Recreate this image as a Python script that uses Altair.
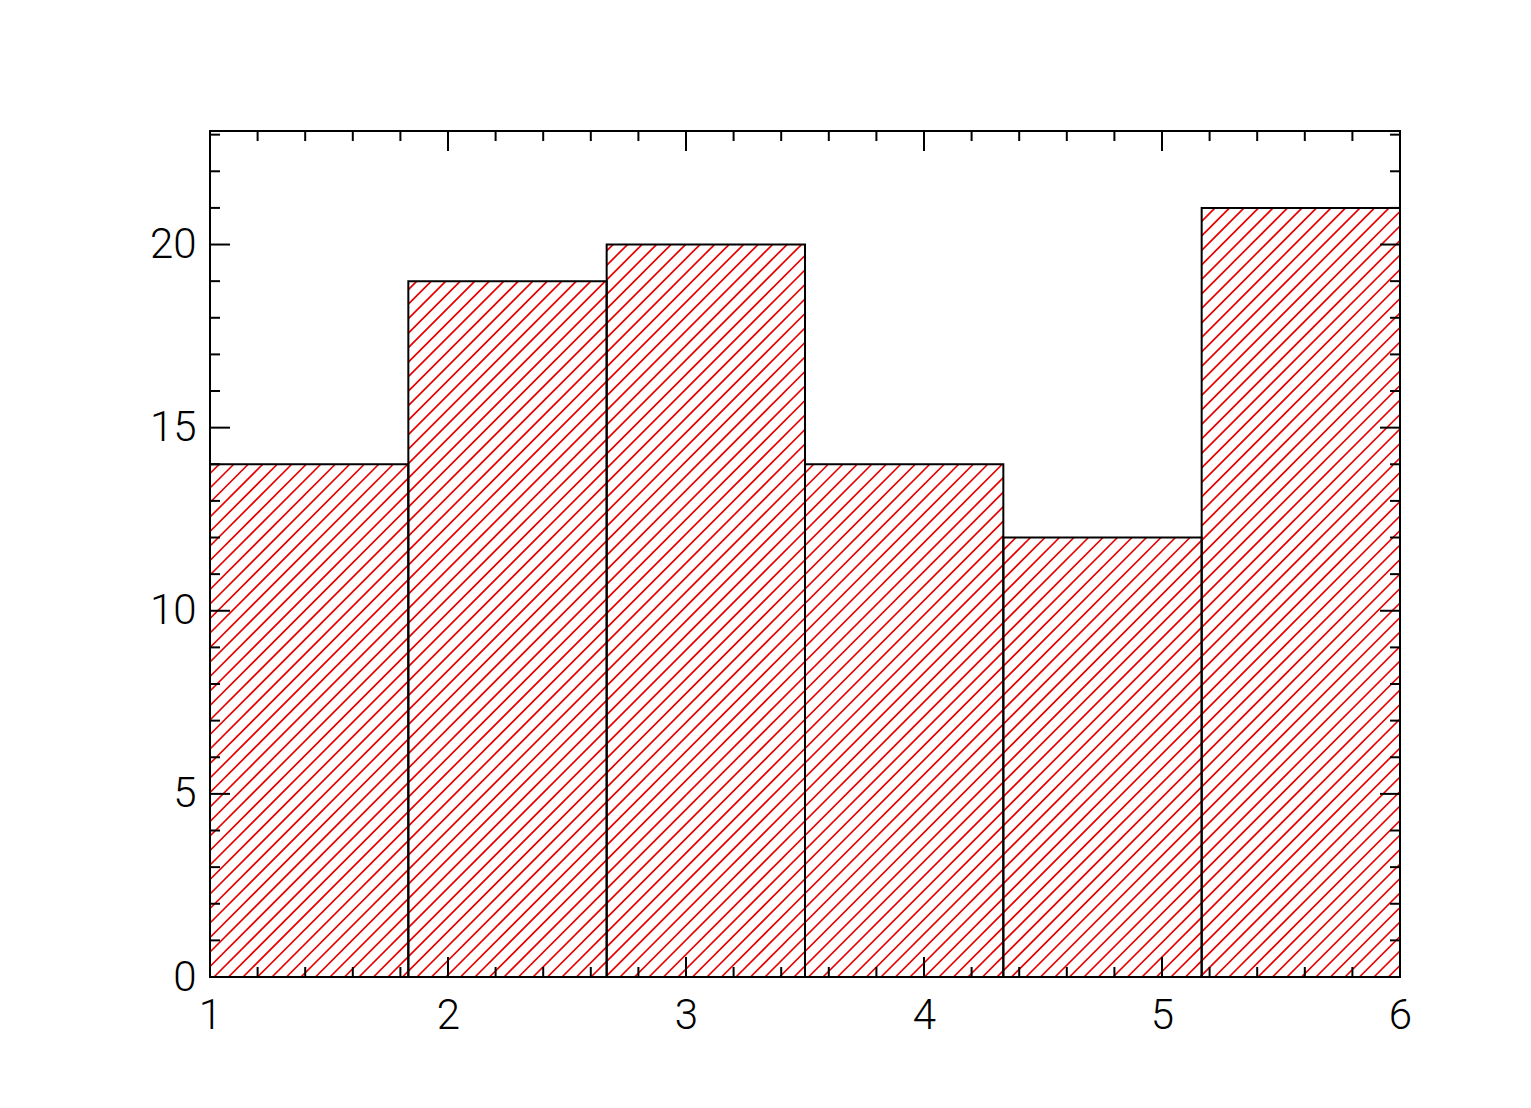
import altair as alt
import pandas as pd
import numpy as np

# ---- data ----
counts = [14, 19, 20, 14, 12, 21]
x_min, x_max = 1, 6
y_min, y_max = 0, 23.1
x_major = [1, 2, 3, 4, 5, 6]
x_minor = [1.2, 1.4, 1.6, 1.8, 2.2, 2.4, 2.6, 2.8, 3.2, 3.4, 3.6, 3.8,
           4.2, 4.4, 4.6, 4.8, 5.2, 5.4, 5.6, 5.8]
y_major = [0, 5, 10, 15, 20]
y_minor = [1, 2, 3, 4, 6, 7, 8, 9, 11, 12, 13, 14, 16, 17, 18, 19, 21, 22, 23]

# ---- layout ----
W, H = 1190, 846
MAJ, MIN = 20, 10
FONT = "Roboto"

n = len(counts)
edges = [x_min + i * (x_max - x_min) / n for i in range(n + 1)]
bars = pd.DataFrame({"x": edges[:-1], "x2": edges[1:], "y": [0] * n, "y2": counts})

# hatch segments (45 degrees in screen space), clipped to each bar
sx = W / (x_max - x_min)
sy = H / (y_max - y_min)
step = 14.5
segs = []
for i, c in enumerate(counts):
    u0 = (edges[i] - x_min) * sx
    u1 = (edges[i + 1] - x_min) * sx
    vh = c * sy
    k0 = int(np.floor((u0 - vh) / step))
    k1 = int(np.ceil(u1 / step))
    for k in range(k0, k1 + 1):
        cc = k * step + 4
        lo = max(0.0, u0 - cc)
        hi = min(vh, u1 - cc)
        if hi > lo:
            segs.append({"x": x_min + (lo + cc) / sx, "y": lo / sy,
                         "x2": x_min + (hi + cc) / sx, "y2": hi / sy})
hatch = pd.DataFrame(segs)

xscale = alt.Scale(domain=[x_min, x_max], nice=False, zero=False)
yscale = alt.Scale(domain=[y_min, y_max], nice=False, zero=False)

xaxis = alt.Axis(values=x_major, title="", ticks=False, domain=False, grid=False,
                 labelFont=FONT, labelFontSize=42, labelFontWeight=300,
                 labelColor="black", labelPadding=18, labelFlush=False,
                 labelOverlap=False)
yaxis = alt.Axis(values=y_major, title="", ticks=False, domain=False, grid=False,
                 labelFont=FONT, labelFontSize=42, labelFontWeight=300,
                 labelColor="black", labelPadding=14, labelOverlap=False)

hatch_layer = alt.Chart(hatch).mark_rule(color="#e60000", strokeWidth=1.7).encode(
    x=alt.X("x:Q", scale=xscale, axis=xaxis),
    y=alt.Y("y:Q", scale=yscale, axis=yaxis),
    x2="x2:Q",
    y2="y2:Q",
)

bar_layer = alt.Chart(bars).mark_rect(fillOpacity=0, stroke="black", strokeWidth=2).encode(
    x=alt.X("x:Q", scale=xscale, axis=xaxis),
    x2="x2:Q",
    y=alt.Y("y:Q", scale=yscale, axis=yaxis),
    y2="y2:Q",
)


def xticks(vals, L):
    df = pd.DataFrame({"x": vals})
    base = alt.Chart(df).mark_rule(color="black", strokeWidth=2)
    bottom = base.encode(x=alt.X("x:Q", scale=xscale, axis=xaxis),
                         y=alt.value(H), y2=alt.value(H - L))
    top = base.encode(x=alt.X("x:Q", scale=xscale, axis=xaxis),
                      y=alt.value(0), y2=alt.value(L))
    return [bottom, top]


def yticks(vals, L):
    df = pd.DataFrame({"y": vals})
    base = alt.Chart(df).mark_rule(color="black", strokeWidth=2)
    left = base.encode(y=alt.Y("y:Q", scale=yscale, axis=yaxis),
                       x=alt.value(0), x2=alt.value(L))
    right = base.encode(y=alt.Y("y:Q", scale=yscale, axis=yaxis),
                        x=alt.value(W), x2=alt.value(W - L))
    return [left, right]


layers = [hatch_layer, bar_layer]
layers += xticks(x_major, MAJ) + xticks(x_minor, MIN)
layers += yticks(y_major, MAJ) + yticks(y_minor, MIN)

chart = alt.layer(*layers).properties(
    width=W, height=H,
    autosize=alt.AutoSizeParams(type="none"),
    padding={"left": 202, "top": 123, "right": 123, "bottom": 123},
    background="white",
).configure_view(stroke="black", strokeWidth=2)

chart.save("out.html", embed_options={"renderer": "svg", "actions": False})
